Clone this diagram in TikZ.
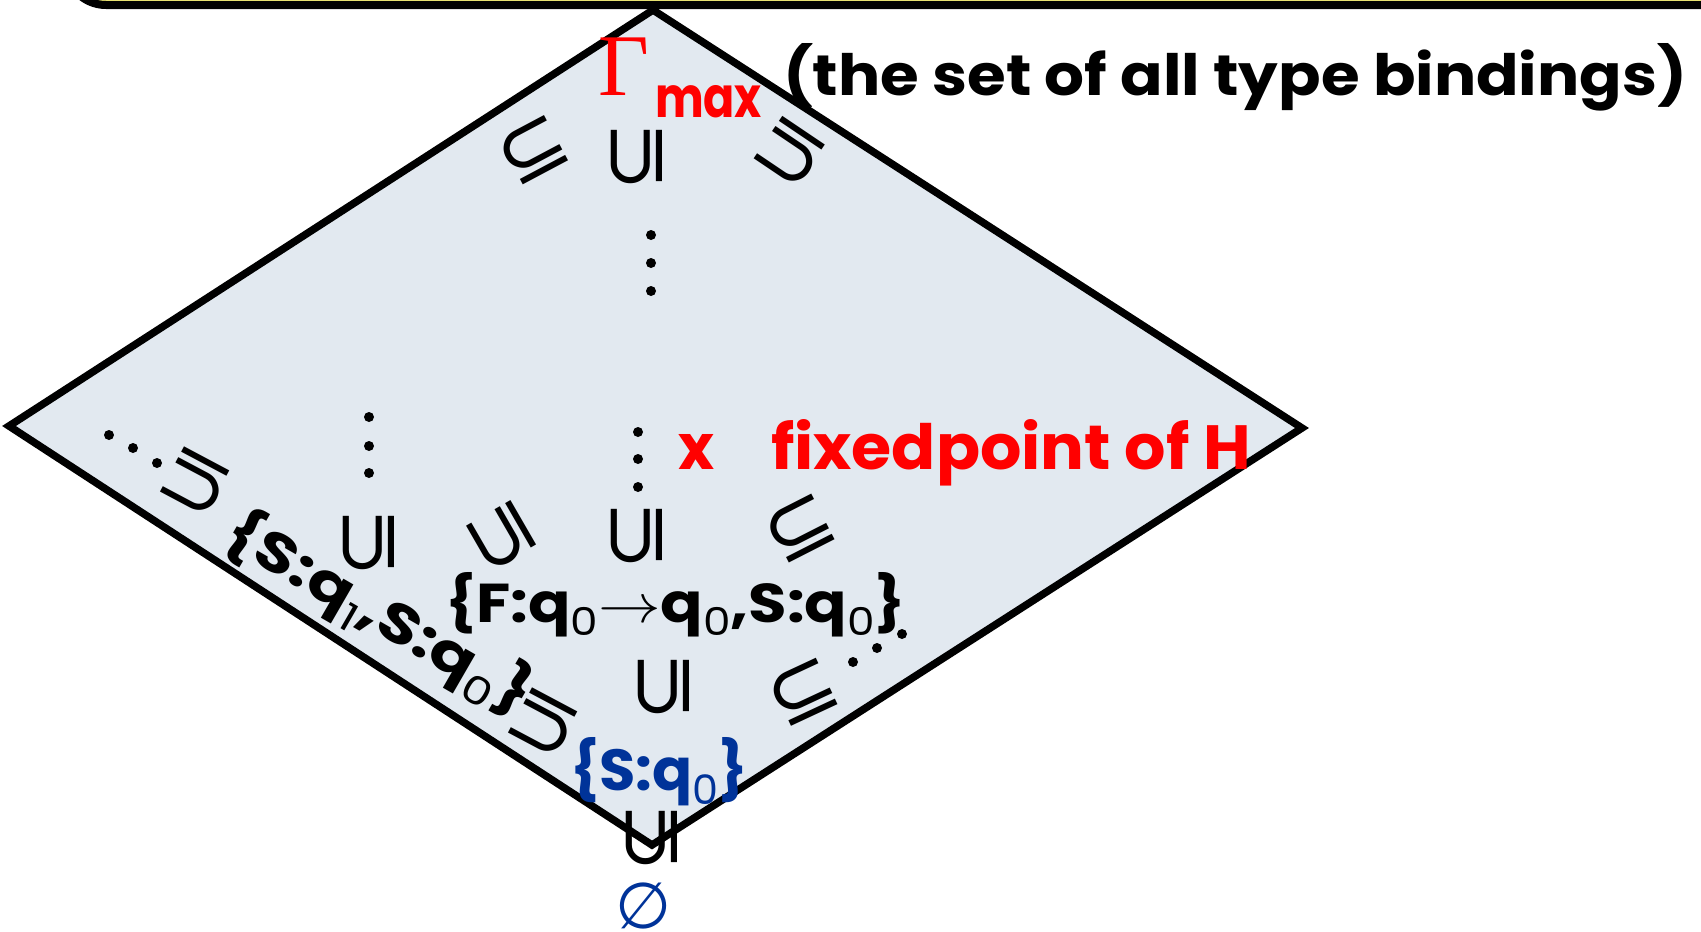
\documentclass[tikz,border=0pt]{standalone}
\usepackage{fontspec}
\setmainfont{Poppins}
\newfontfamily\dejavu{DejaVu Sans}
\newfontfamily\gfont{Liberation Serif}
\usepackage{graphicx}
\newcommand{\fitbox}[3]{\resizebox{#1pt}{#2pt}{#3}}
\newcommand{\qsub}[1]{q\raisebox{-2.5pt}{\fontsize{7}{7}\mdseries\selectfont #1}}
\newcommand{\subeq}{\resizebox{70pt}{!}{\dejavu ⊆}}
\definecolor{diafill}{HTML}{E2E9F0}
\definecolor{myred}{HTML}{FF0000}
\definecolor{myblue}{HTML}{003399}
\definecolor{boxyellow}{HTML}{E6E070}
\tikzset{
  lbl/.style={inner sep=0pt, outer sep=0pt},
  subs/.style={inner sep=0pt, outer sep=0pt, rotate=#1},
  dotn/.style={circle, fill=black, inner sep=0pt, minimum size=10pt},
}
\begin{document}
\begin{tikzpicture}[x=1pt,y=-1pt]
\useasboundingbox (0,0) rectangle (1701,932);
\begin{scope}
  \clip (0,0) rectangle (1701,932);
  \draw[line width=8pt, fill=boxyellow, rounded corners=40pt] (66,-300) rectangle (1900,5);
\end{scope}
% diamond
\draw[line width=7.5pt, fill=diafill, line join=miter]
  (653,10) -- (1302,428) -- (652,845) -- (9,426) -- cycle;

% top label
\node[lbl, anchor=base west, text=myred] (gam) at (598,95) {\gfont\fontsize{88}{88}\selectfont Γ};
\node[lbl, anchor=base west, text=myred] (max) at (655,117) {\fitbox{107}{32}{\bfseries max}};
\node[lbl, anchor=base west] (title) at (783,95) {\fitbox{904}{52}{\bfseries (the set of all type bindings)}};

% upper symbols
\node[subs=28] (s1) at (533,150) {\subeq};
\node[subs=90] (s2) at (637,156) {\subeq};
\node[subs=146] (s3) at (790,152) {\subeq};

% top vertical dots
\node[dotn] (a1) at (651,235) {};
\node[dotn] (a2) at (651,263) {};
\node[dotn] (a3) at (651,291) {};

% left column dots
\node[dotn] (b1) at (369,417) {};
\node[dotn] (b2) at (369,446) {};
\node[dotn] (b3) at (369,473) {};

% middle column dots
\node[dotn] (c1) at (638,432) {};
\node[dotn] (c2) at (638,459) {};
\node[dotn] (c3) at (638,487) {};

% left diagonal dots
\node[dotn] (e1) at (109,435) {};
\node[dotn] (e2) at (133,448) {};
\node[dotn] (e3) at (157,463) {};

% right diagonal dots
\node[dotn] (f1) at (902,634) {};
\node[dotn] (f2) at (877,648) {};
\node[dotn] (f3) at (853,662) {};

% fixedpoint
\node[lbl, anchor=base west, text=myred] (xm) at (678,469) {\fitbox{36}{35}{\bfseries x}};
\node[lbl, anchor=base west, text=myred] (fix) at (771,469) {\fitbox{480}{50}{\bfseries fixedpoint of H}};

% middle symbols
\node[subs=152] (s4) at (196,482) {\subeq};
\node[subs=90] (s5) at (369,542) {\subeq};
\node[subs=120] (s6) at (502,536) {\subeq};
\node[subs=90] (s8) at (637,535) {\subeq};
\node[subs=27] (s7) at (800,529) {\subeq};

% rotated set
\node[lbl, rotate=-30] (sq1) at (379,614) {\fitbox{345}{50}{\bfseries\{S:\qsub{1},S:\qsub{0}\}}};

% F set
\node[lbl, anchor=base west] (fset) at (445,622) {\fitbox{461}{50}{\bfseries\{F:\qsub{0}$\rightarrow$\qsub{0},S:\qsub{0}\}}};

% lower symbols
\node[subs=90] (s9) at (664,686) {\subeq};
\node[subs=25] (s10) at (803,692) {\subeq};
\node[subs=152] (s11) at (544,723) {\subeq};

% S:q0 blue
\node[lbl, anchor=base west, text=myblue] (sq0) at (570,790) {\fitbox{178}{53}{\bfseries\{S:\qsub{0}\}}};

% bottom
\node[subs=90] (s12) at (652,837) {\subeq};
\node[lbl, text=myblue] (empty) at (643,906) {\resizebox{56pt}{!}{\dejavu ∅}};
\end{tikzpicture}
\end{document}
